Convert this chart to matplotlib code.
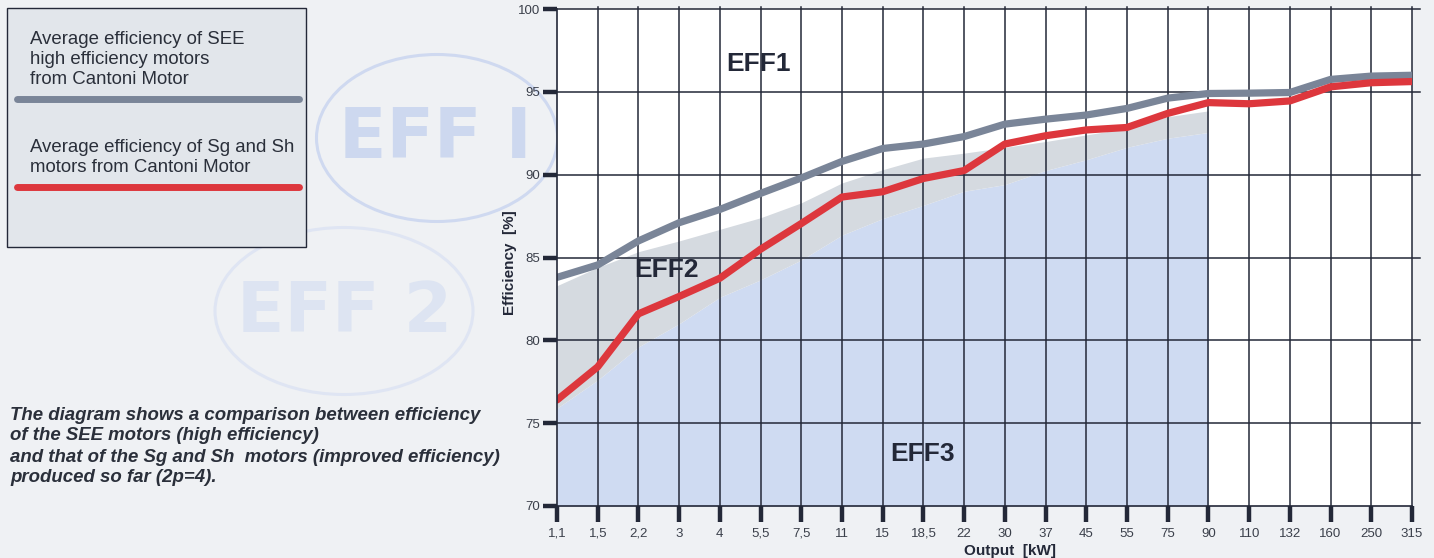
import numpy as np
import matplotlib
matplotlib.use("Agg")
import matplotlib.pyplot as plt
from matplotlib.patches import Ellipse, Rectangle
from matplotlib.lines import Line2D

plt.rcParams['font.family'] = ['Liberation Sans', 'DejaVu Sans']

# ---------------------------------------------------------------
#  data
# ---------------------------------------------------------------
kw = ['1,1', '1,5', '2,2', '3', '4', '5,5', '7,5', '11', '15', '18,5', '22',
      '30', '37', '45', '55', '75', '90', '110', '132', '160', '250', '315']

# SEE high efficiency motors (grey)
see = [83.8, 84.55, 86.0, 87.1, 87.9, 88.87, 89.8, 90.8, 91.58, 91.85, 92.3,
       93.05, 93.35, 93.6, 94.0, 94.62, 94.9, 94.92, 94.96, 95.75, 95.95, 96.0]

# Sg and Sh motors (red)
sg = [76.4, 78.4, 81.6, 82.65, 83.75, 85.5, 87.05, 88.65, 88.97, 89.77, 90.25,
      91.85, 92.35, 92.7, 92.85, 93.7, 94.35, 94.28, 94.45, 95.3, 95.55, 95.62]

# EFF2 band upper limit and EFF3 upper limit (up to 90 kW)
eff2_top = [83.3, 84.4, 85.35, 86.0, 86.7, 87.4, 88.3, 89.5, 90.3, 91.0, 91.3,
            91.65, 92.0, 92.4, 92.8, 93.5, 93.85]
eff3_top = [75.9, 77.6, 79.6, 81.0, 82.6, 83.65, 84.85, 86.35, 87.35, 88.15, 89.0,
            89.4, 90.25, 90.9, 91.65, 92.2, 92.55]

yticks = [70, 75, 80, 85, 90, 95, 100]

W, H = 1434, 558
dark = '#232838'
txt = '#2a2f3a'


def fx(px): return px / W
def fy(py): return 1 - py / H


fig = plt.figure(figsize=(W / 100, H / 100), dpi=100)
fig.patch.set_facecolor('#eff1f4')

# ---------------------------------------------------------------
#  watermark ellipses in the background
# ---------------------------------------------------------------
e1 = Ellipse((fx(437), fy(138)), 241 / W, 167 / H, transform=fig.transFigure,
             fill=False, edgecolor='#cfd9f0', lw=2.2, zorder=-3)
e2 = Ellipse((fx(344), fy(311)), 258 / W, 167 / H, transform=fig.transFigure,
             fill=False, edgecolor='#dfe5f3', lw=2.2, zorder=-3)
fig.patches.extend([e1, e2])
fig.text(fx(435), fy(139), 'EFF I', ha='center', va='center', fontsize=50,
         family='DejaVu Sans', fontweight='bold', color='#cdd8ef', zorder=-3)
fig.text(fx(345), fy(312), 'EFF 2', ha='center', va='center', fontsize=50,
         family='DejaVu Sans', fontweight='bold', color='#dde4f2', zorder=-3)

# ---------------------------------------------------------------
#  legend box
# ---------------------------------------------------------------
box = Rectangle((fx(7), fy(247)), 299 / W, 239 / H, transform=fig.transFigure,
                facecolor='#e2e6eb', edgecolor=dark, lw=1.0, zorder=-1)
fig.patches.append(box)
for yy, s in [(39, 'Average efficiency of SEE'), (59.5, 'high efficiency motors'),
              (80, 'from Cantoni Motor'), (147, 'Average efficiency of Sg and Sh'),
              (167, 'motors from Cantoni Motor')]:
    fig.text(fx(30), fy(yy), s, ha='left', va='center', fontsize=13.4, color=txt)
fig.lines.append(Line2D([fx(17), fx(299)], [fy(99), fy(99)], transform=fig.transFigure,
                        color='#7a8598', lw=5, solid_capstyle='round'))
fig.lines.append(Line2D([fx(17), fx(299)], [fy(186.5), fy(186.5)], transform=fig.transFigure,
                        color='#dd373d', lw=5, solid_capstyle='round'))

# description text
for yy, s in [(415, 'The diagram shows a comparison between efficiency'),
              (436, 'of the SEE motors (high efficiency)'),
              (457, 'and that of the Sg and Sh  motors (improved efficiency)'),
              (478, 'produced so far (2p=4).')]:
    fig.text(fx(10), fy(yy), s, ha='left', va='center', fontsize=13.4,
             fontweight='bold', fontstyle='italic', color=txt)

# ---------------------------------------------------------------
#  chart
# ---------------------------------------------------------------
ax = fig.add_axes([fx(557), fy(506), (1412 - 557) / W, (506 - 9) / H])
ax.set_facecolor('white')
x = np.arange(len(kw))
xb = x[:len(eff3_top)]

ax.fill_between(xb, 70, eff3_top, color='#cfdbf2', lw=0, zorder=1)
ax.fill_between(xb, eff3_top, eff2_top, color='#d5dae0', lw=0, zorder=1)

for yv in yticks[1:]:
    ax.axhline(yv, xmin=0, xmax=1.009, color=dark, lw=1.1, clip_on=False, zorder=2)
for xv in x[1:]:
    ax.axvline(xv, ymin=0, ymax=1.005, color=dark, lw=1.1, clip_on=False, zorder=2)

ax.plot(x, see, color='#7a8598', lw=5.2, solid_capstyle='round',
        solid_joinstyle='round', zorder=3)
ax.plot(x, sg, color='#dd373d', lw=5.2, solid_capstyle='round',
        solid_joinstyle='round', zorder=4)

ax.text(4.94, 96.65, 'EFF1', ha='center', va='center', fontsize=19,
        fontweight='bold', color=dark, zorder=5)
ax.text(2.68, 84.27, 'EFF2', ha='center', va='center', fontsize=19,
        fontweight='bold', color=dark, zorder=5)
ax.text(8.97, 73.14, 'EFF3', ha='center', va='center', fontsize=19,
        fontweight='bold', color=dark, zorder=5)

ax.set_xlim(0, len(kw) - 1)
ax.set_ylim(70, 100)
ax.set_xticks(x)
ax.set_xticklabels(kw)
ax.set_yticks(yticks)
ax.tick_params(axis='y', length=10, width=3.2, color=dark, pad=2,
               labelsize=9.5, labelcolor='#3a3f4a')
ax.tick_params(axis='x', length=11.5, width=3.2, color=dark, pad=4,
               labelsize=9.5, labelcolor='#3a3f4a')
for s in ['top', 'right']:
    ax.spines[s].set_visible(False)
for s in ['left', 'bottom']:
    ax.spines[s].set_color(dark)
    ax.spines[s].set_linewidth(1.2)
    ax.spines[s].set_zorder(6)

fig.text(fx(510), fy(263), 'Efficiency  [%]', rotation=90, ha='center', va='center',
         fontsize=11, fontweight='bold', color=dark)
fig.text(fx(1010), fy(551), 'Output  [kW]', ha='center', va='center',
         fontsize=11, fontweight='bold', color=dark)

fig.savefig('out.png', dpi=100, facecolor=fig.get_facecolor())
